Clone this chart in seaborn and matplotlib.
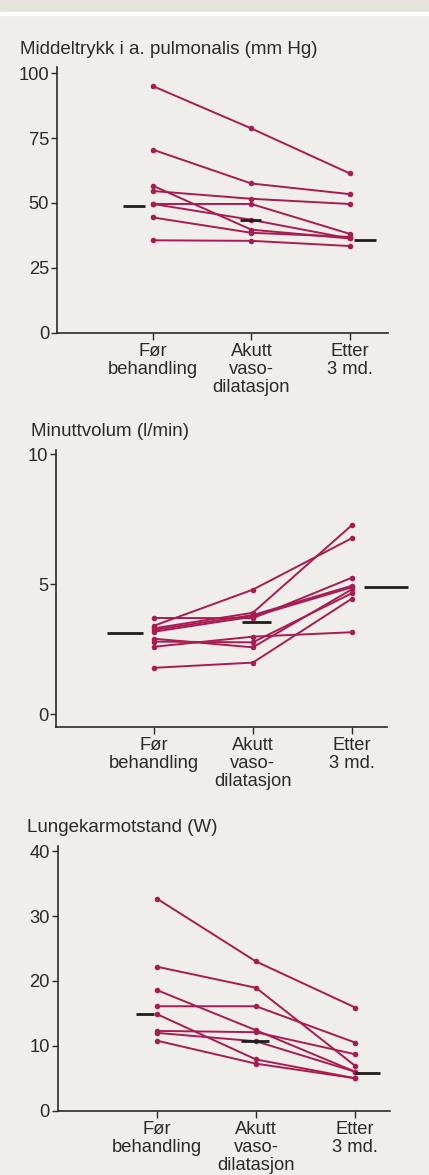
import pandas as pd
import numpy as np
import matplotlib
matplotlib.use("Agg")
import matplotlib.pyplot as plt
import seaborn as sns
from matplotlib.patches import Rectangle

# stages (x categories)
stages = ["Før\nbehandling", "Akutt\nvaso-\ndilatasjon", "Etter\n3 md."]

# Middeltrykk i a. pulmonalis (mm Hg), one entry per patient
pap_for = [95.0, 70.5, 54.6, 49.6, 49.6, 56.6, 44.4, 35.6]
pap_akutt = [78.7, 57.5, 51.6, 49.6, 43.5, 39.7, 38.5, 35.4]
pap_etter = [61.4, 53.4, 49.6, 38.1, 36.3, 36.3, 36.9, 33.4]
pap_mean = [48.9, 43.4, 35.6]

# Minuttvolum (l/min)
co_for = [3.70, 3.40, 3.30, 3.24, 3.17, 2.90, 2.79, 2.59, 1.78]
co_akutt = [3.69, 4.79, 3.90, 3.81, 3.75, 2.57, 2.76, 2.98, 1.98]
co_etter = [5.25, 6.77, 7.27, 4.94, 4.88, 4.80, 4.65, 3.15, 4.44]
co_mean = [3.14, 3.56, 4.90]

# Lungekarmotstand (W)
pvr_for = [32.7, 22.2, 18.6, 16.1, 14.9, 12.3, 12.0, 10.8]
pvr_akutt = [23.0, 18.95, 12.4, 16.1, 7.9, 12.1, 10.7, 7.25]
pvr_etter = [15.9, 6.9, 6.0, 10.5, 5.0, 8.7, 6.0, 5.0]
pvr_mean = [14.9, 10.7, 5.85]

titles = ["Middeltrykk i a. pulmonalis (mm Hg)", "Minuttvolum (l/min)",
          "Lungekarmotstand (W)"]
yticks = [[0, 25, 50, 75, 100], [0, 5, 10], [0, 10, 20, 30, 40]]


def long_frame(before, acute, after):
    rows = []
    for i, vals in enumerate(zip(before, acute, after)):
        for pos, v in enumerate(vals):
            rows.append({"patient": i, "pos": pos, "value": v})
    return pd.DataFrame(rows)


bg = "#f0eeea"
red = "#a81c52"
ink = "#2b2b2b"

sns.set_theme(style="white")
plt.rcParams["font.family"] = ["Liberation Sans", "DejaVu Sans"]
plt.rcParams["text.color"] = ink
plt.rcParams["xtick.color"] = ink
plt.rcParams["ytick.color"] = ink

fig = plt.figure(figsize=(4.29, 11.75), dpi=100, facecolor=bg)
H = 1175.0
W = 429.0
fig.patches.append(Rectangle((0, 1 - 12 / H), 1, 12 / H, transform=fig.transFigure,
                             color="#e7e4dd", zorder=0))
fig.patches.append(Rectangle((0, 1 - 15 / H), 1, 3 / H, transform=fig.transFigure,
                             color="white", zorder=0))

# layout in pixels: left spine x, right end x, bottom y, top y, xlim, ylim
panels = [
    dict(data=(pap_for, pap_akutt, pap_etter), mean=pap_mean,
         box=(56.7, 388, 332.7, 66.7), xlim=(-0.98, 2.39), ylim=(0, 102.5),
         span=[(-0.305, -0.084), (-0.12, 0.10), (0.04, 0.265)],
         title_xy=(20, 50)),
    dict(data=(co_for, co_akutt, co_etter), mean=co_mean,
         box=(56, 387.3, 727, 450), xlim=(-0.99, 2.36), ylim=(-0.5, 10.17),
         span=[(-0.47, -0.115), (-0.11, 0.18), (0.12, 0.565)],
         title_xy=(31, 432)),
    dict(data=(pvr_for, pvr_akutt, pvr_etter), mean=pvr_mean,
         box=(57.5, 390, 1110.7, 846), xlim=(-1.0, 2.35), ylim=(0, 40.8),
         span=[(-0.21, -0.03), (-0.15, 0.13), (0.0, 0.25)],
         title_xy=(27, 827)),
]

for k, p in enumerate(panels):
    x0, x1, yb, yt = p["box"]
    ax = fig.add_axes([x0 / W, 1 - yb / H, (x1 - x0) / W, (yb - yt) / H])
    ax.set_facecolor("none")
    df = long_frame(*p["data"])
    sns.lineplot(data=df, x="pos", y="value", units="patient", estimator=None,
                 color=red, lw=1.4, marker="o", markersize=4.0,
                 markeredgewidth=0, legend=False, ax=ax)
    for pos, (m, (a, b)) in enumerate(zip(p["mean"], p["span"])):
        ax.plot([pos + a, pos + b], [m, m], color="#1e1e1e", lw=2.0,
                solid_capstyle="butt", clip_on=False, zorder=5)
    ax.set_xlim(*p["xlim"])
    ax.set_ylim(*p["ylim"])
    ax.set_xticks([0, 1, 2])
    ax.set_xticklabels(stages, fontsize=13.2, linespacing=1.08)
    ax.set_yticks(yticks[k])
    ax.tick_params(axis="y", labelsize=13.2, length=4, width=1.0, pad=1.5,
                   direction="out", left=True)
    ax.tick_params(axis="x", length=5, width=1.0, pad=2.5, direction="out",
                   bottom=True)
    ax.set_xlabel("")
    ax.set_ylabel("")
    sns.despine(ax=ax)
    for s in ["left", "bottom"]:
        ax.spines[s].set_color(ink)
        ax.spines[s].set_linewidth(1.2)
    tx, ty = p["title_xy"]
    fig.text(tx / W, 1 - ty / H, titles[k], fontsize=13.5, ha="left",
             va="center")

fig.savefig("out.png", dpi=100, facecolor=bg)
